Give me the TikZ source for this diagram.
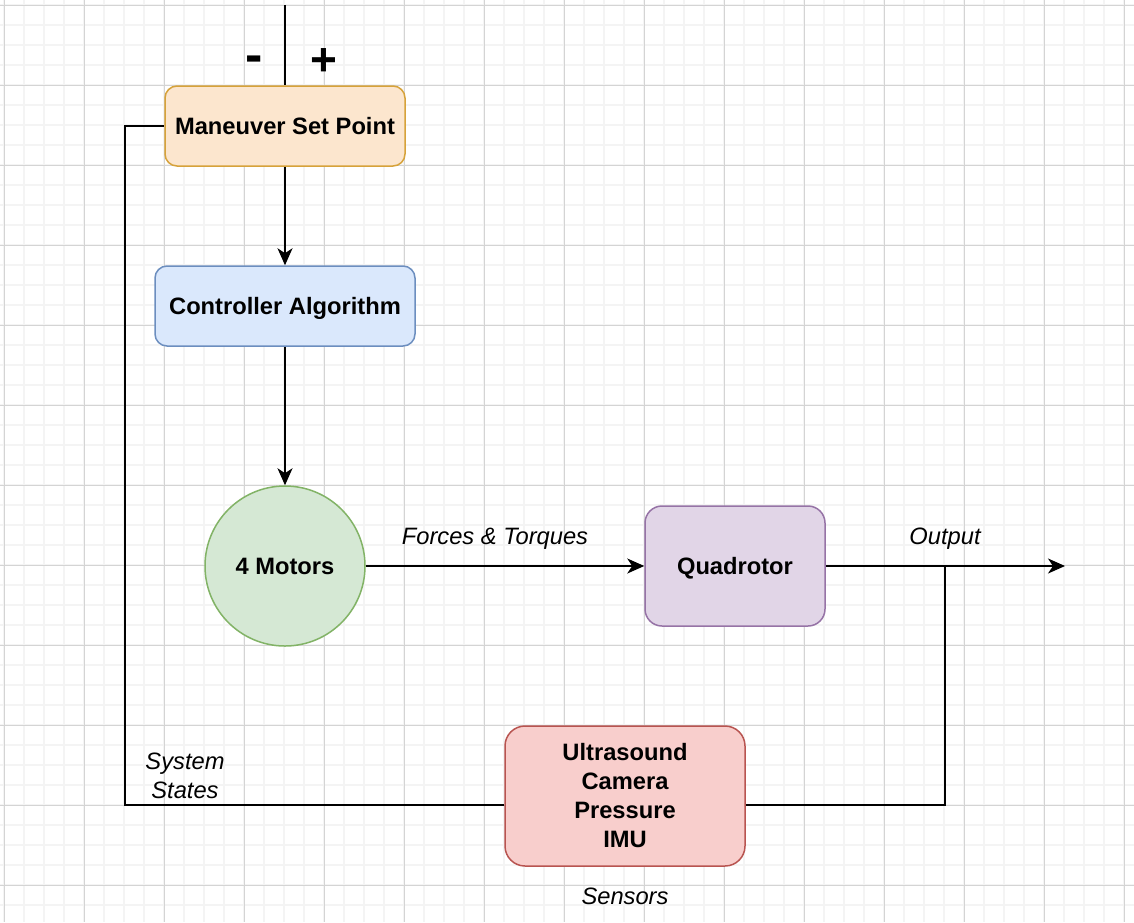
\documentclass[tikz,border=0pt]{standalone}
\usepackage{fontspec}
\setmainfont{Liberation Sans}
\usetikzlibrary{arrows.meta}
\definecolor{gridminor}{HTML}{F4F4F4}
\definecolor{gridmajor}{HTML}{D4D4D4}
\definecolor{orF}{HTML}{FCE6CE}
\definecolor{orD}{HTML}{D6A23A}
\definecolor{blF}{HTML}{DAE8FC}
\definecolor{blD}{HTML}{6C8EBF}
\definecolor{grF}{HTML}{D5E8D4}
\definecolor{grD}{HTML}{82B366}
\definecolor{puF}{HTML}{E1D5E7}
\definecolor{puD}{HTML}{9673A6}
\definecolor{reF}{HTML}{F8CECC}
\definecolor{reD}{HTML}{B85450}
\newcommand{\lowr}[1]{\raisebox{-2pt}[\height][\depth]{#1}}
\tikzset{
  blk/.style={draw, line width=1.5pt, font=\fontsize{23.7}{29}\selectfont\bfseries, align=center, inner sep=0pt},
  conn/.style={line width=2pt, draw=black},
  arr/.style={conn, -{Stealth[length=17pt,width=15pt,inset=5pt]}},
  lbl/.style={font=\fontsize{23.7}{29}\selectfont\itshape, align=center, inner sep=0pt},
  sign/.style={font=\fontsize{46}{50}\selectfont\bfseries, inner sep=0pt}
}
\begin{document}
\begin{tikzpicture}[x=1pt,y=-1pt]
\useasboundingbox (0,0) rectangle (1134,922);
\fill[white] (0,0) rectangle (1134,922);
% grid
\foreach \i in {0,...,56} {\draw[gridminor, line width=1.2pt] ({4+20*\i},0) -- ({4+20*\i},922);}
\foreach \i in {0,...,46} {\draw[gridminor, line width=1.2pt] (0,{5+20*\i}) -- (1134,{5+20*\i});}
\foreach \i in {0,...,14} {\draw[gridmajor, line width=0.9pt] ({4.5+80*\i},0) -- ({4.5+80*\i},922);}
\foreach \i in {0,...,11} {\draw[gridmajor, line width=0.9pt] (0,{5.3+80*\i}) -- (1134,{5.3+80*\i});}

% nodes
\node[blk, fill=orF, draw=orD, minimum width=240pt, minimum height=80pt, rounded corners=12pt] (msp) at (285,126) {Maneuver Set Point};
\node[blk, fill=blF, draw=blD, minimum width=260pt, minimum height=80pt, rounded corners=12pt] (ctrl) at (285,306) {\lowr{Controller Algorithm}};
\node[blk, circle, fill=grF, draw=grD, minimum size=160pt] (mot) at (285,566) {4 Motors};
\node[blk, fill=puF, draw=puD, minimum width=180pt, minimum height=120pt, rounded corners=17pt] (quad) at (735,566) {\lowr{Quadrotor}};
\node[blk, fill=reF, draw=reD, minimum width=240pt, minimum height=140pt, rounded corners=20pt] (sens) at (625,796) {Ultrasound\\Camera\\Pressure\\IMU};

\coordinate (top) at (285,5);
\coordinate (out) at (1065,566);
\coordinate (j) at (945,566);
\coordinate (c1) at (125,126);
\coordinate (c2) at (125,805);

% connectors
\draw[conn] (top) -- (msp.north);
\draw[arr] (msp.south) -- (ctrl.north);
\draw[arr] (ctrl.south) -- (mot.north);
\draw[arr] (mot.east) -- (quad.west);
\draw[arr] (quad.east) -- (out);
\draw[conn] (j) |- ([yshift=-9pt]sens.east);
\draw[conn] ([yshift=-9pt]sens.west) -- (c2) -- (c1) -- (msp.west);

% labels
\node[sign, font=\fontsize{52}{56}\selectfont\bfseries] (minus) at (254,64) {-};
\node[sign] (plus) at (324,62) {+};
\node[lbl] (ft) at (495,539) {Forces \& Torques};
\node[lbl] (outl) at (945,539) {Output};
\node[lbl] (ss) at (185,776) {System\\States};
\node[lbl] (sl) at (625,896) {Sensors};
\end{tikzpicture}
\end{document}
